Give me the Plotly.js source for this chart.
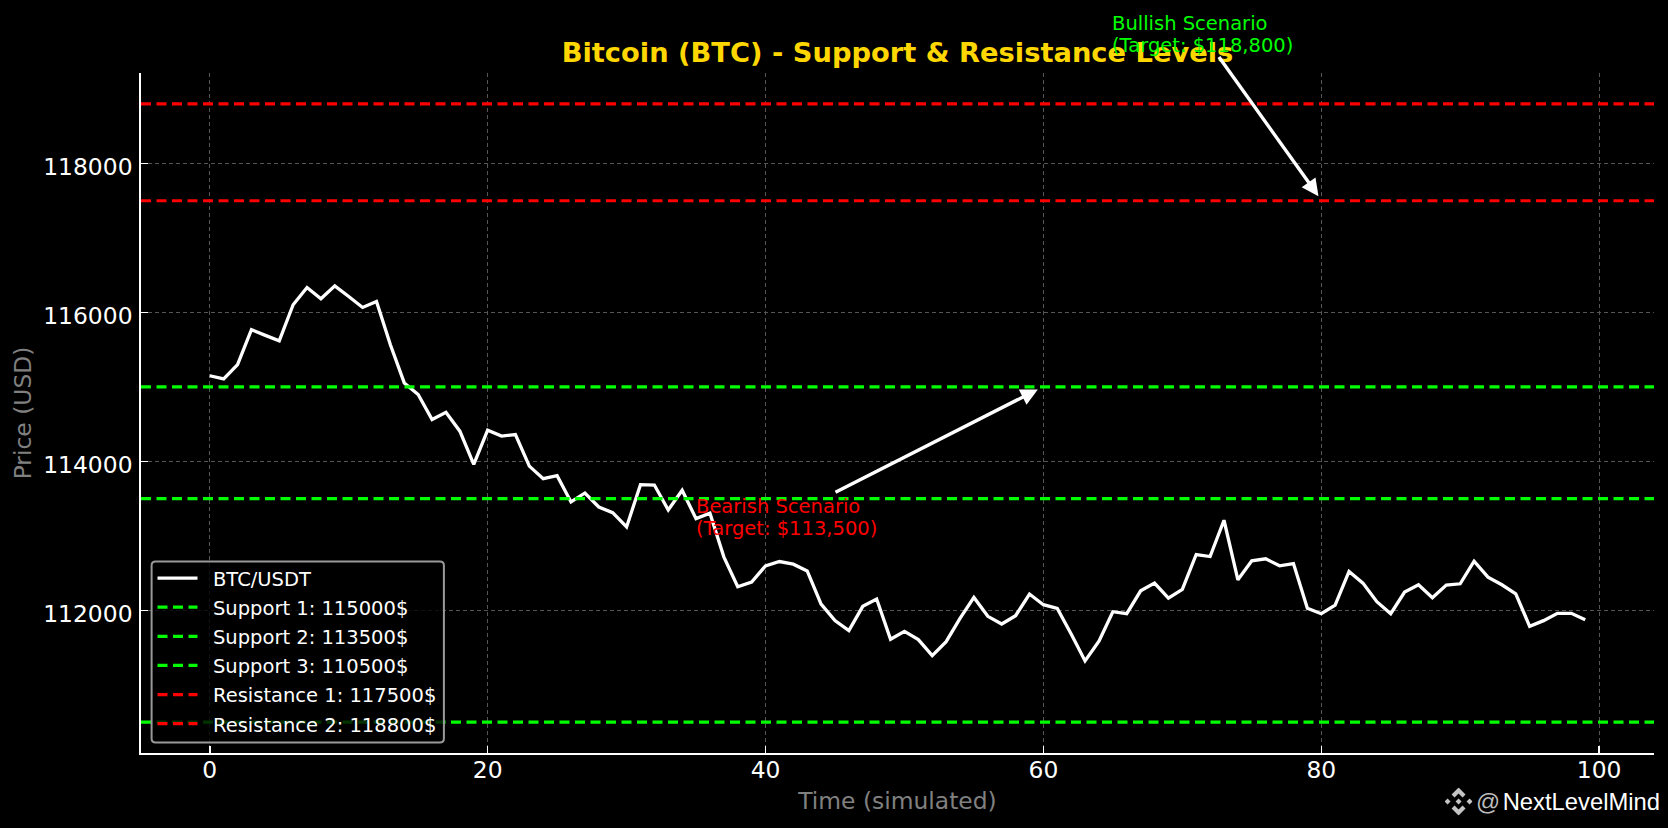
<!DOCTYPE html>
<html>
<head>
<meta charset="utf-8">
<script src="https://cdn.plot.ly/plotly-3.0.1.min.js"></script>
<style>html,body{margin:0;padding:0;background:#000;overflow:hidden}#chart{width:1668px;height:828px}</style>
</head>
<body>
<div id="chart"></div>
<script>
const time = [...Array(100).keys()];
const price = [115150,115107,115300,115768,115692,115620,116103,116335,116183,116357,
116214,116067,116147,115567,115054,114898,114562,114660,114406,113960,
114420,114340,114360,113937,113768,113808,113455,113576,113388,113312,
113120,113687,113683,113348,113612,113232,113304,112719,112317,112380,
112598,112656,112620,112530,112085,111862,111728,112054,112152,111612,
111719,111607,111393,111580,111893,112174,111920,111817,111929,112219,
112076,112027,111683,111321,111585,111982,111955,112263,112366,112165,
112281,112750,112723,113210,112411,112665,112692,112598,112629,112027,
111955,112071,112522,112366,112116,111955,112246,112344,112170,112339,
112357,112660,112446,112344,112223,111786,111862,111960,111960,111875];
const xRange = [-4.95, 103.95];
const yRange = [110085, 119215];
const levelNames = ["Support 1: 115000$","Support 2: 113500$","Support 3: 110500$","Resistance 1: 117500$","Resistance 2: 118800$"];
const levelValues = [115000,113500,110500,117500,118800];
const levelColors = ["#00ff00","#00ff00","#00ff00","#ff0000","#ff0000"];

const L=141,R=1654.5,T=72.8,B=753.5;
const px=x=>(x-L)/(R-L), py=y=>(B-y)/(B-T);
const lab=s=>'<span style="font-size:33px">&nbsp;</span><span style="font-size:19.5px">'+s+'</span>';
const big=s=>'<span style="font-size:19.5px">'+s+'</span>';

const traces=[{x:time,y:price,mode:'lines',name:lab('BTC/USDT'),line:{color:'#fff',width:3.3},hoverinfo:'skip'}];
levelNames.forEach((n,i)=>traces.push({x:xRange,y:[levelValues[i],levelValues[i]],mode:'lines',name:lab(n),
  line:{color:levelColors[i],width:3.2,dash:'10px,5.5px'},hoverinfo:'skip'}));

const axisCommon={showgrid:true,gridcolor:'#555',gridwidth:1,griddash:'4px,3px',zeroline:false,showline:true,linecolor:'#fff',linewidth:1.8,
  ticks:'inside',ticklen:7,tickwidth:1.5,tickcolor:'#fff',tickfont:{size:23.4,color:'#fff',family:'DejaVu Sans'},mirror:false};

const bx0=px(151.6),bx1=px(444),by0=py(743),by1=py(561.7),rx=4/(R-L),ry=4/(B-T);
const boxPath=`M${bx0+rx},${by0} L${bx1-rx},${by0} Q${bx1},${by0} ${bx1},${by0+ry} L${bx1},${by1-ry} Q${bx1},${by1} ${bx1-rx},${by1} L${bx0+rx},${by1} Q${bx0},${by1} ${bx0},${by1-ry} L${bx0},${by0+ry} Q${bx0},${by0} ${bx0+rx},${by0} Z`;

const arrow={xref:'x',yref:'y',axref:'x',ayref:'y',text:' ',showarrow:true,arrowcolor:'#fff',arrowwidth:3.4,arrowhead:2,arrowsize:1,standoff:0,font:{size:1},borderpad:0};

const layout={
  width:1668,height:828,paper_bgcolor:'#000',plot_bgcolor:'#000',
  font:{family:'DejaVu Sans',color:'#fff'},
  margin:{l:L,r:1668-R,t:T,b:828-B,pad:0},
  title:{text:'<b>Bitcoin (BTC) - Support &amp; Resistance Levels</b>',font:{size:27.3,color:'#ffd700',family:'DejaVu Sans'},
    x:0.5,xref:'paper',xshift:0.5,xanchor:'center',y:1-52.7/828,yanchor:'middle'},
  xaxis:Object.assign({},axisCommon,{range:xRange,tick0:0,dtick:20,ticklabelstandoff:-5,
    title:{text:'Time (simulated)',font:{size:23.4,color:'#808080',family:'DejaVu Sans'},standoff:10}}),
  yaxis:Object.assign({},axisCommon,{range:yRange,tick0:110000,dtick:2000,tickformat:'d',ticklabelstandoff:2,ticklabelshift:3,
    title:{text:'Price (USD)',font:{size:23.4,color:'#808080',family:'DejaVu Sans'},standoff:5}}),
  legend:{x:px(152.5),y:py(744),xanchor:'left',yanchor:'bottom',bgcolor:'rgba(0,0,0,0)',borderwidth:0,
    font:{size:20.1,color:'#fff',family:'DejaVu Sans'},itemwidth:40,traceorder:'normal',itemclick:false},
  shapes:[{type:'path',path:boxPath,xref:'paper',yref:'paper',layer:'above',fillcolor:'rgba(0,0,0,0.8)',line:{color:'#999',width:2}}],
  annotations:[
    Object.assign({x:59.6,y:114966,ax:45.0,ay:113584},arrow),
    Object.assign({x:79.8,y:117561,ax:72.6,ay:119440},arrow),
    {x:35,xref:'x',xshift:-2.5,y:py(518),yref:'paper',xanchor:'left',yanchor:'middle',align:'left',showarrow:false,
      text:big('Bearish Scenario')+'<br>'+big('(Target: $113,500)'),font:{size:17.2,color:'#ff0000',family:'DejaVu Sans'}},
    {x:65,xref:'x',xshift:-2.5,y:py(34),yref:'paper',xanchor:'left',yanchor:'middle',align:'left',showarrow:false,
      text:big('Bullish Scenario')+'<br>'+big('(Target: $118,800)'),font:{size:17.2,color:'#00ff00',family:'DejaVu Sans'}},
    {x:px(1474),xref:'paper',y:py(802),yref:'paper',xanchor:'left',yanchor:'middle',align:'left',showarrow:false,
      text:'<span style="color:#bbbbbb">@</span><span style="font-size:9px"> </span>NextLevelMind',font:{size:23.8,color:'#fff',family:'Liberation Sans'}}
  ],
  images:[{source:'data:image/svg+xml;utf8,'+encodeURIComponent('<svg xmlns="http://www.w3.org/2000/svg" viewBox="0 0 28 28"><g fill="#c4c4c4"><path d="M14 0l7 7-3 3-4-4-4 4-3-3z"/><path d="M14 28l7-7-3-3-4 4-4-4-3 3z"/><path d="M3 11l3 3-3 3-3-3z"/><path d="M25 11l3 3-3 3-3-3z"/><path d="M14 11l3 3-3 3-3-3z"/></g></svg>'),
    xref:'paper',yref:'paper',x:px(1445),y:py(788),sizex:28/(R-L),sizey:28/(B-T),xanchor:'left',yanchor:'top',layer:'above',sizing:'stretch'}]
};
Plotly.newPlot('chart',traces,layout,{displayModeBar:false,staticPlot:true});
</script>
</body>
</html>
